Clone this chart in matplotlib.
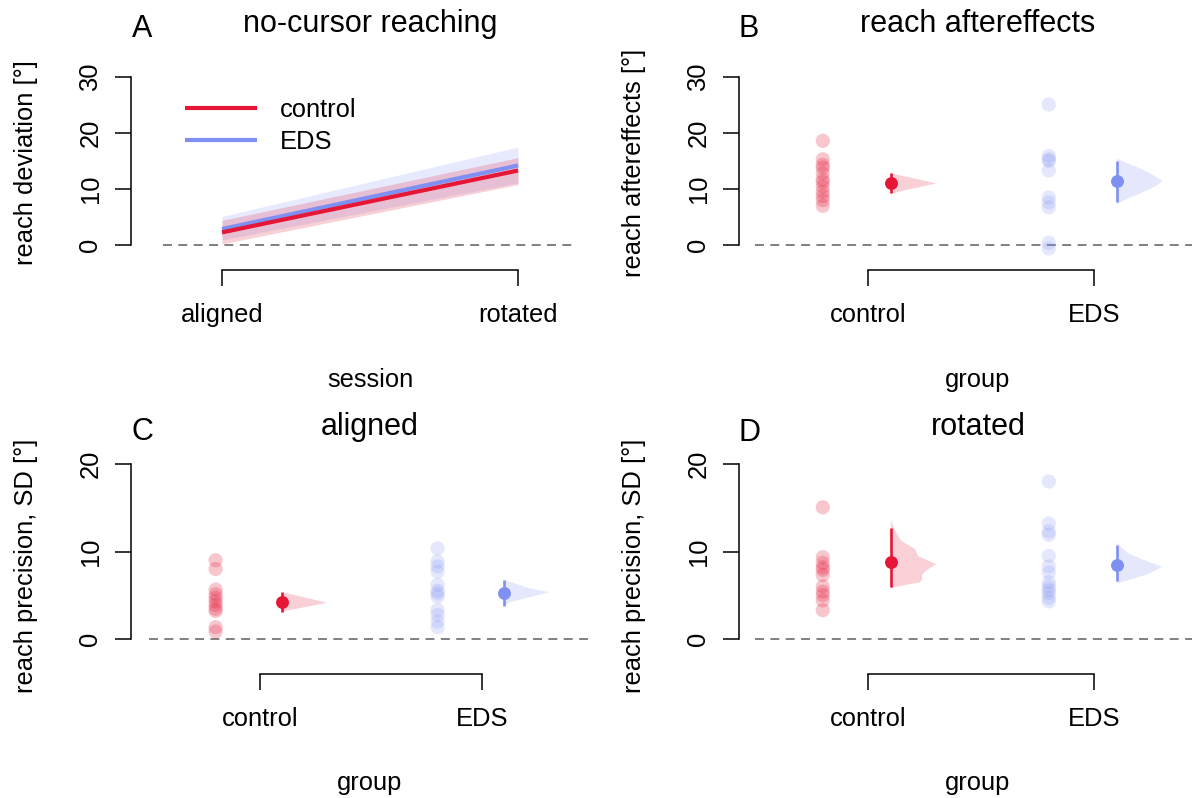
import matplotlib
matplotlib.use('Agg')
import matplotlib.pyplot as plt
import numpy as np

plt.rcParams['font.family'] = ['Liberation Sans', 'DejaVu Sans']

# ---------------- data ----------------
groups = ['control', 'EDS']
sessions = ['aligned', 'rotated']

# Panel A: no-cursor reach deviation (mean and 95% CI per session)
nc_control_mean = [2.25, 13.3]
nc_control_lo = [0.2, 10.8]
nc_control_hi = [4.4, 15.6]
nc_eds_mean = [2.85, 14.2]
nc_eds_lo = [0.9, 11.1]
nc_eds_hi = [5.1, 17.5]

# Panel B: reach aftereffects
ae_control = [18.6, 15.3, 14.3, 13.8, 12.8, 11.7, 11.25, 10.4, 9.5, 8.75, 8.0, 7.0]
ae_eds = [25.1, 15.9, 15.3, 15.0, 13.3, 8.5, 7.6, 6.7, 0.4, -0.6]
ae_mean = [11.1, 11.4]
ae_lo = [9.3, 7.7]
ae_hi = [12.8, 15.0]
ae_control_dens_y = [12.9, 12.4, 11.9, 11.5, 11.1, 10.7, 10.2, 9.7, 9.2]
ae_control_dens_w = [0.0, 0.27, 0.55, 0.78, 1.0, 0.78, 0.5, 0.22, 0.0]
ae_eds_dens_y = [15.5, 14.6, 13.4, 12.2, 11.6, 10.7, 9.5, 8.6, 7.7, 7.3]
ae_eds_dens_w = [0.0, 0.26, 0.61, 0.88, 1.0, 0.88, 0.57, 0.3, 0.06, 0.0]

# Panel C: reach precision (SD), aligned session
al_control = [9.0, 8.0, 5.65, 5.1, 4.7, 4.3, 3.9, 3.45, 3.2, 1.35, 0.85]
al_eds = [10.35, 8.85, 8.3, 7.7, 6.2, 5.5, 5.2, 4.85, 3.3, 2.75, 2.0, 1.35]
al_mean = [4.27, 5.3]
al_lo = [3.1, 3.8]
al_hi = [5.4, 6.75]
al_control_dens_y = [5.4, 5.0, 4.6, 4.2, 3.9, 3.6, 3.2]
al_control_dens_w = [0.0, 0.33, 0.67, 1.0, 0.7, 0.4, 0.0]
al_eds_dens_y = [6.8, 6.55, 5.9, 5.4, 4.8, 4.3, 3.8]
al_eds_dens_w = [0.0, 0.14, 0.53, 1.0, 0.53, 0.14, 0.0]

# Panel D: reach precision (SD), rotated session
ro_control = [15.05, 9.35, 8.7, 8.2, 7.9, 7.3, 6.0, 5.4, 5.0, 4.4, 3.3]
ro_eds = [18.0, 13.2, 12.3, 11.9, 9.5, 8.3, 7.6, 6.5, 6.0, 5.6, 5.25, 4.7, 4.3]
ro_mean = [8.8, 8.5]
ro_lo = [5.9, 6.6]
ro_hi = [12.7, 10.8]
ro_control_dens_y = [13.7, 12.5, 11.3, 10.7, 10.4, 10.0, 9.5, 9.0, 8.6, 8.2, 7.7, 7.3, 6.9, 6.55, 6.2, 5.9]
ro_control_dens_w = [0.0, 0.08, 0.22, 0.41, 0.52, 0.56, 0.6, 0.83, 1.0, 0.87, 0.74, 0.68, 0.69, 0.64, 0.29, 0.0]
ro_eds_dens_y = [11.1, 10.5, 9.8, 9.05, 8.3, 7.5, 6.8, 6.4]
ro_eds_dens_w = [0.0, 0.1, 0.26, 0.61, 1.0, 0.7, 0.26, 0.0]

# ---------------- style ----------------
RED = '#e51636'
BLUE = '#7f8ff2'
W, H, DPI = 1192, 798, 100
PX = 72.0 / DPI          # points per pixel
FS = 18.4                # axis text size (pt)
FT = 22                  # title size (pt)

fig = plt.figure(figsize=(W / DPI, H / DPI), dpi=DPI)


def make_axes(box, xmap, ymap):
    left, right, top, bottom = box
    x1, xppu = xmap
    y0, yppu = ymap
    ax = fig.add_axes([left / W, 1 - bottom / H, (right - left) / W, (bottom - top) / H])
    ax.set_xlim(1 + (left - x1) / xppu, 1 + (right - x1) / xppu)
    ax.set_ylim((y0 - bottom) / yppu, (y0 - top) / yppu)
    ax.patch.set_alpha(0)
    for s in ('top', 'right'):
        ax.spines[s].set_visible(False)
    return ax


def style_axes(ax, yticks, xlabels, left_out_px, title, letter, title_xy, letter_xy,
               xlabel, ylabel, xlabel_xy, ylabel_xy):
    ax.spines['left'].set_position(('outward', left_out_px * PX))
    ax.spines['left'].set_bounds(yticks[0], yticks[-1])
    ax.spines['bottom'].set_bounds(1, 2)
    for s in ('left', 'bottom'):
        ax.spines[s].set_linewidth(1.1)
    ax.set_yticks(yticks)
    ax.set_yticklabels([str(t) for t in yticks])
    ax.set_xticks([1, 2])
    ax.set_xticklabels(xlabels)
    ax.tick_params(axis='both', direction='out', length=16 * PX, width=1.1,
                   labelsize=FS, colors='black')
    ax.tick_params(axis='y', labelrotation=90, pad=9)
    for lab in ax.get_yticklabels():
        lab.set_va('center')
    ax.tick_params(axis='x', pad=12)
    ax.axhline(0, color='#808080', lw=1.4, dashes=(4.6, 3.3), zorder=1)
    fig.text(title_xy[0] / W, 1 - title_xy[1] / H, title, ha='center', va='baseline', fontsize=FT)
    fig.text(letter_xy[0] / W, 1 - letter_xy[1] / H, letter, ha='center', va='baseline', fontsize=FT)
    ax.set_xlabel(xlabel, fontsize=FS)
    ax.xaxis.set_label_coords(xlabel_xy[0] / W, 1 - xlabel_xy[1] / H, transform=fig.transFigure)
    ax.xaxis.label.set_va('baseline')
    ax.set_ylabel(ylabel, fontsize=FS)
    ax.yaxis.set_label_coords(ylabel_xy[0] / W, 1 - ylabel_xy[1] / H, transform=fig.transFigure)
    ax.yaxis.label.set_va('baseline')


def group_panel(ax, dots, means, los, his, dens_y, dens_w):
    cols = [RED, BLUE]
    alphas = [0.24, 0.2]
    for i in range(2):
        xg = i + 1
        ax.scatter(np.full(len(dots[i]), xg - 0.2), dots[i], s=105, color=cols[i],
                   alpha=alphas[i], edgecolors='none', zorder=3, clip_on=False)
        dy = np.asarray(dens_y[i])
        dw = np.asarray(dens_w[i])
        ax.fill_betweenx(dy, xg + 0.1, xg + 0.1 + 0.2 * dw, color=cols[i], alpha=0.2,
                         lw=0, zorder=2)
        ax.errorbar([xg + 0.1], [means[i]],
                    yerr=[[means[i] - los[i]], [his[i] - means[i]]],
                    fmt='o', color=cols[i], ms=9.3, elinewidth=1.9, capsize=0,
                    markeredgewidth=0, zorder=4)


# ---------------- Panel A ----------------
axA = make_axes((163, 577, 60, 270), (222, 296), (245, 5.6))
xs = [1, 2]
axA.fill_between(xs, nc_eds_lo, nc_eds_hi, color=BLUE, alpha=0.18, lw=0, zorder=2)
axA.fill_between(xs, nc_control_lo, nc_control_hi, color=RED, alpha=0.2, lw=0, zorder=2)
lE, = axA.plot(xs, nc_eds_mean, color=BLUE, lw=3, solid_capstyle='butt', zorder=3)
lC, = axA.plot(xs, nc_control_mean, color=RED, lw=3, solid_capstyle='butt', zorder=3)
axA.legend([lC, lE], groups, loc='upper left', bbox_to_anchor=(185 / W, 1 - 98 / H),
           bbox_transform=fig.transFigure, frameon=False, fontsize=FS,
           handlelength=2.8, handletextpad=0.9, labelspacing=0.3,
           borderpad=0, borderaxespad=0)
style_axes(axA, [0, 10, 20, 30], sessions, 32, 'no-cursor reaching', 'A',
           (370, 32), (142, 37), 'session', 'reach deviation [°]', (370, 387), (33, 163))

# ---------------- Panel B ----------------
axB = make_axes((755, 1192, 60, 270), (868, 226), (245, 5.6))
group_panel(axB, [ae_control, ae_eds], ae_mean, ae_lo, ae_hi,
            [ae_control_dens_y, ae_eds_dens_y], [ae_control_dens_w, ae_eds_dens_w])
style_axes(axB, [0, 10, 20, 30], groups, 16, 'reach aftereffects', 'B',
           (978, 32), (749, 37), 'group', 'reach aftereffects [°]', (978, 387), (641, 163))

# ---------------- Panel C ----------------
axC = make_axes((149, 593, 450, 674), (260, 222), (639, 8.75))
group_panel(axC, [al_control, al_eds], al_mean, al_lo, al_hi,
            [al_control_dens_y, al_eds_dens_y], [al_control_dens_w, al_eds_dens_w])
style_axes(axC, [0, 10, 20], groups, 18, 'aligned', 'C',
           (370, 435), (142, 440), 'group', 'reach precision, SD [°]', (370, 790), (33, 566))

# ---------------- Panel D ----------------
axD = make_axes((755, 1192, 450, 674), (868, 226), (639, 8.75))
group_panel(axD, [ro_control, ro_eds], ro_mean, ro_lo, ro_hi,
            [ro_control_dens_y, ro_eds_dens_y], [ro_control_dens_w, ro_eds_dens_w])
style_axes(axD, [0, 10, 20], groups, 16, 'rotated', 'D',
           (978, 435), (749, 441), 'group', 'reach precision, SD [°]', (978, 790), (641, 566))

fig.savefig('out.png', dpi=DPI)
